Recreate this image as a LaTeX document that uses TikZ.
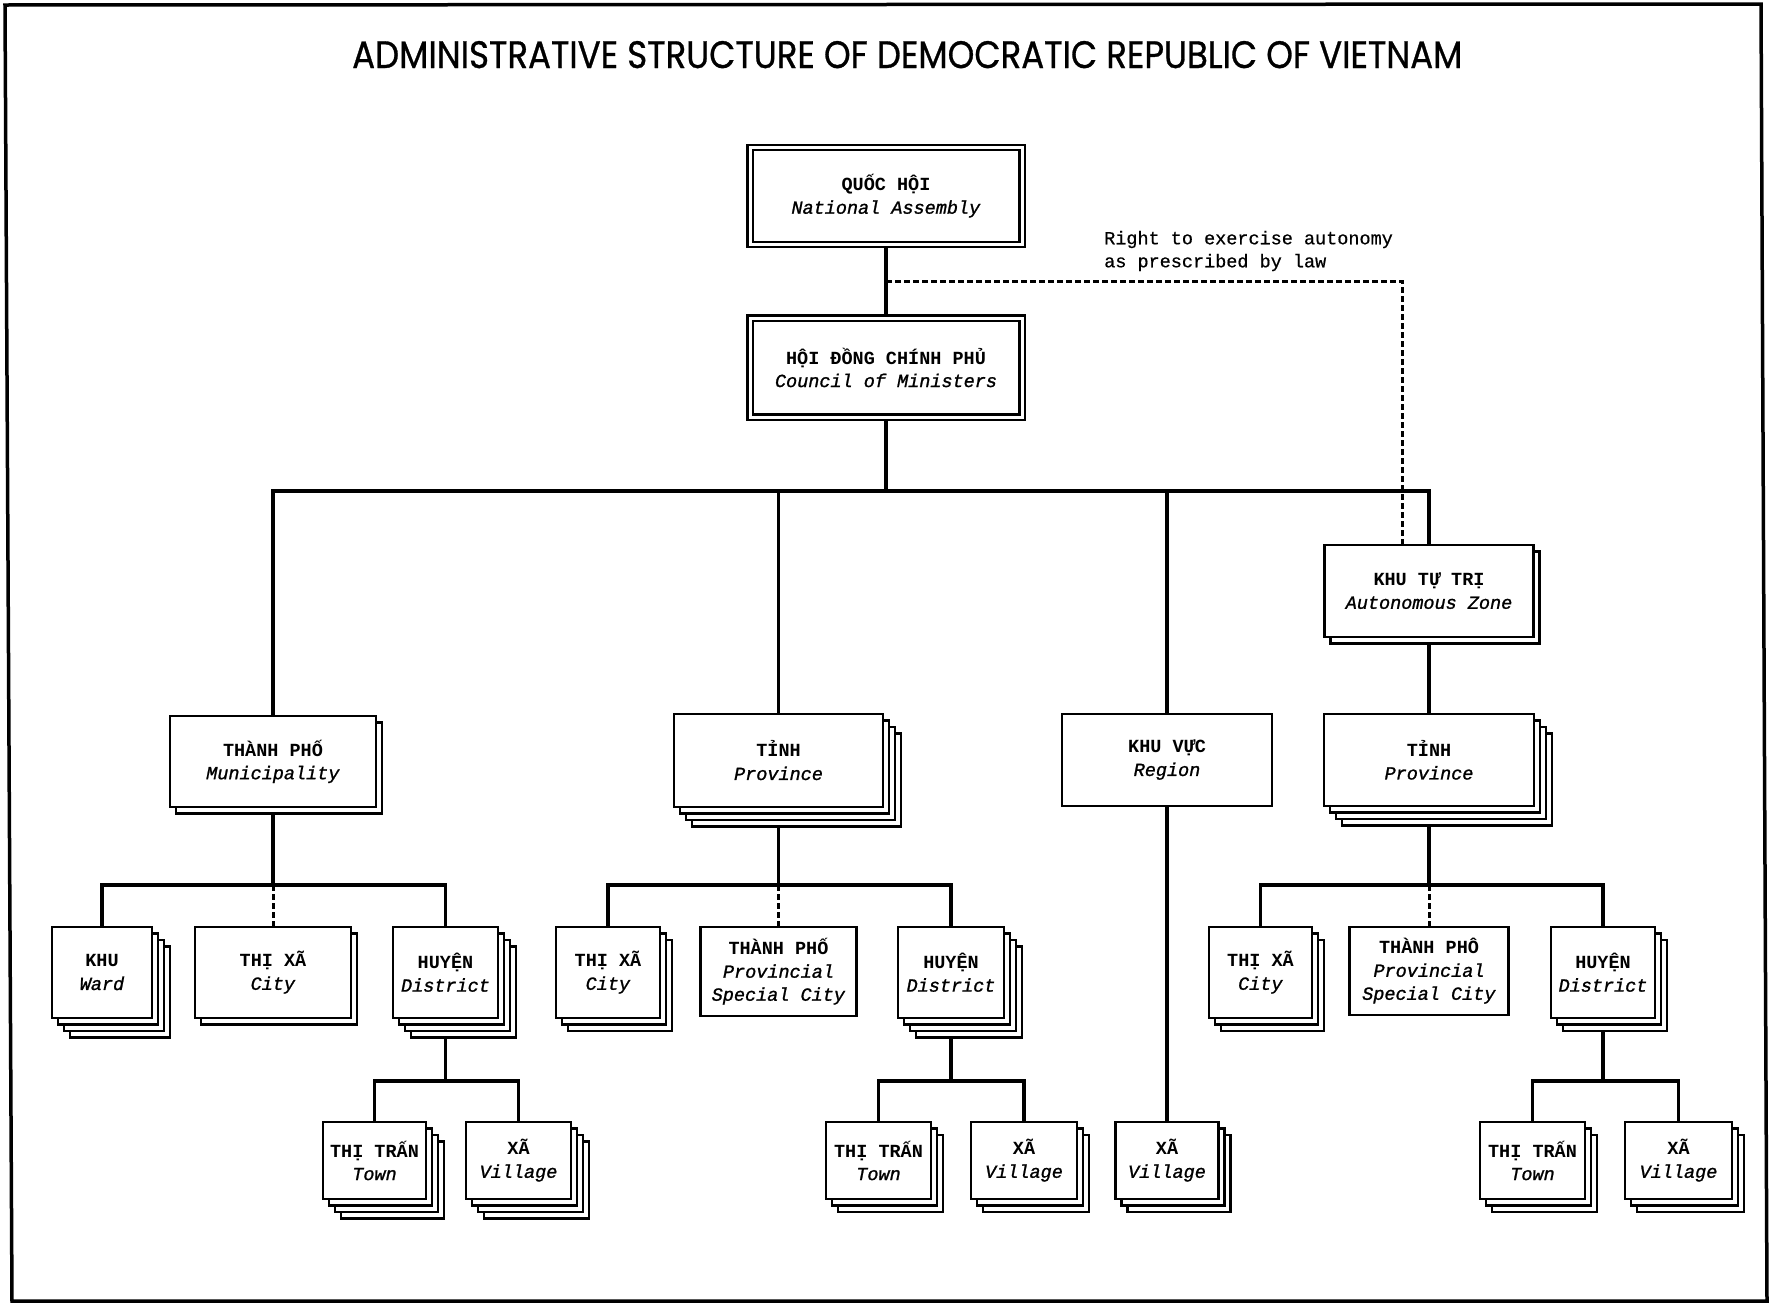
\documentclass[tikz,border=0pt]{standalone}
\usepackage{fontspec}
\usepackage{graphicx}
\usetikzlibrary{shadows,backgrounds}
\newfontfamily\boxfont{Liberation Mono}[ItalicFeatures={FakeBold=1.2}, UprightFeatures={FakeBold=0.6}]
\newfontfamily\titlefont{Poppins}[FakeBold=0.8]
\begin{document}
\begin{tikzpicture}[x=1pt,y=-1pt,
  lbl/.style={font=\boxfont\fontsize{18.5}{23}\selectfont, align=center},
  box/.style={lbl, draw=black, line width=2.8pt, fill=white, inner sep=0pt},
  dblbox/.style={lbl, draw=black, line width=2.2pt, double=white, double distance=3pt, fill=white, inner sep=0pt},
  shadowA/.style={general shadow={shadow xshift=6pt, shadow yshift=-6.5pt, fill=white, draw=black, line width=2.5pt}},
  shadowB/.style={general shadow={shadow xshift=12pt, shadow yshift=-13pt, fill=white, draw=black, line width=2.5pt}},
  shadowC/.style={general shadow={shadow xshift=18pt, shadow yshift=-19.5pt, fill=white, draw=black, line width=2.5pt}},
  stackone/.style={shadowA},
  stacktwo/.style={shadowB, shadowA},
  stackthree/.style={shadowC, shadowB, shadowA},
  conn/.style={line width=3.4pt},
  dconn/.style={line width=3pt, dash pattern=on 6pt off 3pt},
  framel/.style={line width=3.5pt},
  note/.style={font=\boxfont\fontsize{18.5}{23}\selectfont, align=left, inner sep=0pt}
]
\useasboundingbox (0,0) rectangle (1770,1304);
\draw[framel] (5,5) -- (1761,4) -- (1767,1301) -- (12,1301) -- cycle;

\node[anchor=base west, inner sep=0pt] (title) at (352,68)
  {\resizebox{1110pt}{27pt}{\titlefont ADMINISTRATIVE STRUCTURE OF DEMOCRATIC REPUBLIC OF VIETNAM}};

\node[note, anchor=west] (rightnote) at (1104,251) {Right to exercise autonomy\\as prescribed by law};

% top
\node[dblbox, minimum width=272pt, minimum height=97pt] (na) at (886,196) {\textbf{QUỐC HỘI}\\\textit{National Assembly}};
\node[dblbox, minimum width=272pt, minimum height=99pt] (cm) at (886,367.5) {\textbf{HỘI ĐỒNG CHÍNH PHỦ}\\\textit{Council of Ministers}};

% level 2
\node[box, stackone, minimum width=206pt, minimum height=91pt] (mun) at (273,761.5) {\textbf{THÀNH PHỐ}\\\textit{Municipality}};
\node[box, stackthree, minimum width=209pt, minimum height=93pt] (prov1) at (778.5,760.5) {\textbf{TỈNH}\\\textit{Province}};
\node[box, minimum width=210pt, minimum height=92pt] (reg) at (1167,760) {\textbf{KHU VỰC}\\\textit{Region}};
\node[box, stackone, minimum width=209pt, minimum height=92pt] (auto) at (1429,591) {\textbf{KHU TỰ TRỊ}\\\textit{Autonomous Zone}};
\node[box, stackthree, minimum width=210pt, minimum height=92pt] (prov2) at (1429,760) {\textbf{TỈNH}\\\textit{Province}};

% level 3 left
\node[box, stackthree, minimum width=100pt, minimum height=91pt] (ward) at (102,972.5) {\textbf{KHU}\\\textit{Ward}};
\node[box, stackone, minimum width=156pt, minimum height=91pt] (city1) at (273,972.5) {\textbf{THỊ XÃ}\\\textit{City}};
\node[box, stackthree, minimum width=105pt, minimum height=91pt] (dist1) at (445.5,972.5) {\textbf{HUYỆN}\\\textit{District}};
\node[box, stackthree, minimum width=103pt, minimum height=77pt] (town1) at (374.5,1160.5) {\textbf{THỊ TRẤN}\\\textit{Town}};
\node[box, stackthree, minimum width=105pt, minimum height=77pt] (vil1) at (518.5,1160.5) {\textbf{XÃ}\\\textit{Village}};

% level 3 middle
\node[box, stacktwo, minimum width=104pt, minimum height=91pt] (city2) at (608,972.5) {\textbf{THỊ XÃ}\\\textit{City}};
\node[box, minimum width=156pt, minimum height=89pt] (psc1) at (778.5,971.5) {\textbf{THÀNH PHỐ}\\\textit{Provincial}\\\textit{Special City}};
\node[box, stackthree, minimum width=106pt, minimum height=91pt] (dist2) at (951,972.5) {\textbf{HUYỆN}\\\textit{District}};
\node[box, stacktwo, minimum width=105pt, minimum height=77pt] (town2) at (878.5,1160.5) {\textbf{THỊ TRẤN}\\\textit{Town}};
\node[box, stacktwo, minimum width=106pt, minimum height=77pt] (vil2) at (1024,1160.5) {\textbf{XÃ}\\\textit{Village}};
\node[box, stacktwo, minimum width=103pt, minimum height=77pt] (vil3) at (1167,1160.5) {\textbf{XÃ}\\\textit{Village}};

% level 3 right
\node[box, stacktwo, minimum width=103pt, minimum height=91pt] (city3) at (1260.5,972.5) {\textbf{THỊ XÃ}\\\textit{City}};
\node[box, minimum width=159pt, minimum height=88pt] (psc2) at (1429,971) {\textbf{THÀNH PHÔ}\\\textit{Provincial}\\\textit{Special City}};
\node[box, stacktwo, minimum width=104pt, minimum height=91pt] (dist3) at (1603,972.5) {\textbf{HUYỆN}\\\textit{District}};
\node[box, stacktwo, minimum width=105pt, minimum height=77pt] (town3) at (1532.5,1160.5) {\textbf{THỊ TRẤN}\\\textit{Town}};
\node[box, stacktwo, minimum width=107pt, minimum height=77pt] (vil4) at (1678.5,1160.5) {\textbf{XÃ}\\\textit{Village}};

\begin{scope}[on background layer]
\draw[conn] (na.south) -- (cm.north);
\coordinate (dj) at (886,281);
\coordinate (dk) at (1402,281);
\draw[dconn] (dj) -- (dk) -- (dk |- auto.north);
\coordinate (b0) at (886,491);
\draw[conn] (cm.south) -- (b0);
\draw[conn] (mun.north) |- (b0) -| (auto.north);
\draw[conn] (prov1.north) -- (prov1.north |- b0);
\draw[conn] (reg.north) -- (reg.north |- b0);
\draw[conn] (auto.south) -- (prov2.north);
% left
\coordinate (b1) at (273,885);
\draw[conn] (mun.south) -- (b1);
\draw[conn] (ward.north) |- (b1) -| (dist1.north);
\draw[dconn] (b1) -- (city1.north);
\coordinate (b2) at (445.5,1081);
\draw[conn] (dist1.south) -- (b2);
\draw[conn] (town1.north) |- (b2) -| (vil1.north);
% middle
\coordinate (b3) at (778.5,885);
\draw[conn] (prov1.south) -- (b3);
\draw[conn] (city2.north) |- (b3) -| (dist2.north);
\draw[dconn] (b3) -- (psc1.north);
\coordinate (b4) at (951,1081);
\draw[conn] (dist2.south) -- (b4);
\draw[conn] (town2.north) |- (b4) -| (vil2.north);
\draw[conn] (reg.south) -- (vil3.north);
% right
\coordinate (b5) at (1429,885);
\draw[conn] (prov2.south) -- (b5);
\draw[conn] (city3.north) |- (b5) -| (dist3.north);
\draw[dconn] (b5) -- (psc2.north);
\coordinate (b6) at (1603,1081);
\draw[conn] (dist3.south) -- (b6);
\draw[conn] (town3.north) |- (b6) -| (vil4.north);
\end{scope}
\end{tikzpicture}
\end{document}
